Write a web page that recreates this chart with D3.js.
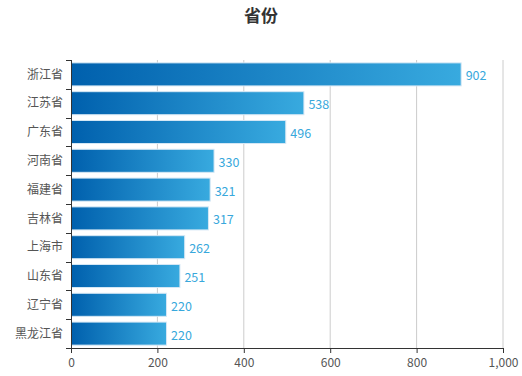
<!DOCTYPE html>
<html>
<head>
<meta charset="utf-8">
<script src="https://cdn.jsdelivr.net/npm/d3@7"></script>
<style>
  body { margin: 0; background: #fff; }
  text { font-family: "Noto Sans CJK SC", "Noto Sans", sans-serif; }
</style>
</head>
<body>
<div id="chart"></div>
<script>
// Data
const provinces = ["浙江省", "江苏省", "广东省", "河南省", "福建省", "吉林省", "上海市", "山东省", "辽宁省", "黑龙江省"];
const counts = [902, 538, 496, 330, 321, 317, 262, 251, 220, 220];
const xTicks = [0, 200, 400, 600, 800, 1000];

const W = 522, H = 376;
const margin = { top: 60, right: 19, bottom: 28, left: 71 };
const width = W - margin.left - margin.right;
const height = H - margin.top - margin.bottom;

const root = d3.select("#chart").append("svg")
    .attr("width", W)
    .attr("height", H);

// Gradient for bars
const grad = root.append("defs").append("linearGradient")
    .attr("id", "barGrad")
    .attr("x1", "0%").attr("x2", "100%")
    .attr("y1", "0%").attr("y2", "0%");
grad.append("stop").attr("offset", "0%").attr("stop-color", "#0060ad");
grad.append("stop").attr("offset", "100%").attr("stop-color", "#38aadf");

// Title
root.append("text")
    .attr("x", W / 2)
    .attr("y", 22)
    .attr("text-anchor", "middle")
    .attr("font-size", 17)
    .attr("font-weight", "bold")
    .attr("fill", "#333")
    .text("省份");

const svg = root.append("g")
    .attr("transform", `translate(${margin.left},${margin.top})`);

// Scales
const x = d3.scaleLinear().domain([0, 1000]).range([0, width]);
const y = d3.scaleBand().domain(provinces).range([0, height]).paddingInner(0.2).paddingOuter(0.1);

// Grid lines
svg.selectAll(".grid")
    .data(xTicks.slice(1))
    .enter().append("line")
    .attr("class", "grid")
    .attr("x1", d => x(d)).attr("x2", d => x(d))
    .attr("y1", 0).attr("y2", height)
    .attr("stroke", "#ccc")
    .attr("stroke-width", 1);

// Bars
svg.selectAll(".bar")
    .data(provinces)
    .enter().append("rect")
    .attr("class", "bar")
    .attr("x", 0.5)
    .attr("y", d => y(d))
    .attr("width", (d, i) => x(counts[i]))
    .attr("height", y.bandwidth())
    .attr("fill", "url(#barGrad)")
    .attr("stroke", "#d6e8f5")
    .attr("stroke-width", 1);

// Value labels
svg.selectAll(".val")
    .data(provinces)
    .enter().append("text")
    .attr("class", "val")
    .attr("x", (d, i) => x(counts[i]) + 5)
    .attr("y", d => y(d) + y.bandwidth() / 2 + 6)
    .attr("font-size", 12.5)
    .attr("fill", "#38a8dc")
    .text((d, i) => counts[i]);

// X axis
const xAxis = svg.append("g")
    .attr("transform", `translate(0,${height})`)
    .call(d3.axisBottom(x).tickValues(xTicks).tickFormat(d3.format(",")).tickSizeOuter(0).tickSize(5));
xAxis.select(".domain").attr("stroke", "#333").attr("d", `M-5,0.5H${width}`);
xAxis.selectAll("line").attr("stroke", "#333");
xAxis.selectAll("text").attr("fill", "#555").attr("font-size", 12).attr("dy", "0.9em");

// Y axis (ticks at band boundaries)
const yAxis = svg.append("g");
yAxis.append("line")
    .attr("x1", 0.5).attr("x2", 0.5)
    .attr("y1", 0).attr("y2", height)
    .attr("stroke", "#333");
const step = height / provinces.length;
yAxis.selectAll(".ytick")
    .data(d3.range(provinces.length))
    .enter().append("line")
    .attr("class", "ytick")
    .attr("x1", -5).attr("x2", 0)
    .attr("y1", i => Math.round(i * step) + 0.5)
    .attr("y2", i => Math.round(i * step) + 0.5)
    .attr("stroke", "#333");
yAxis.selectAll(".ylabel")
    .data(provinces)
    .enter().append("text")
    .attr("class", "ylabel")
    .attr("x", -8)
    .attr("y", d => y(d) + y.bandwidth() / 2)
    .attr("dy", "0.35em")
    .attr("text-anchor", "end")
    .attr("font-size", 12)
    .attr("fill", "#555")
    .text(d => d);
</script>
</body>
</html>
